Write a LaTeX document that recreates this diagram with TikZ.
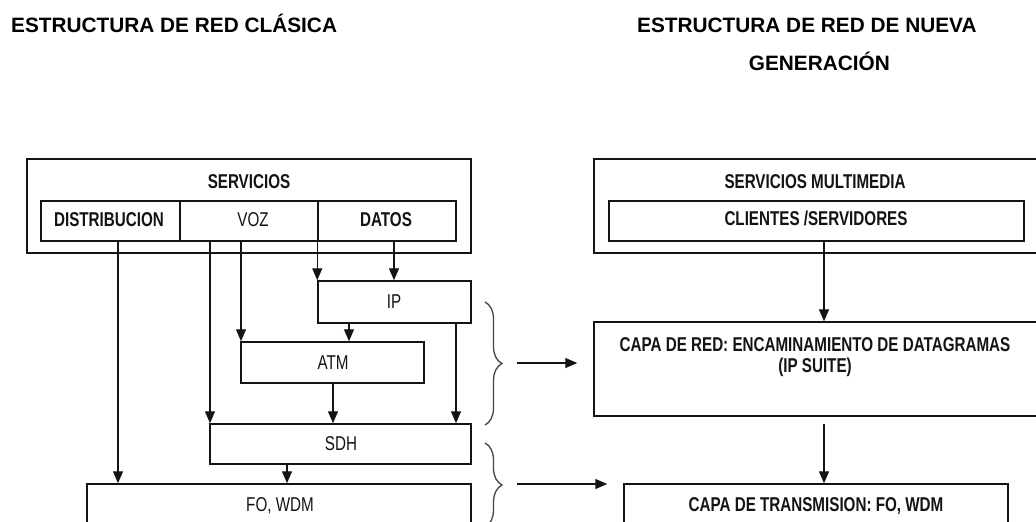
\documentclass[tikz,border=0pt]{standalone}
\usepackage{fontspec}
\setmainfont{Liberation Sans}
\newfontfamily\nar[FakeStretch=0.76]{Liberation Sans}
\usetikzlibrary{arrows.meta,decorations.pathreplacing}
\definecolor{ln}{HTML}{141414}
\definecolor{bc}{HTML}{444444}
\begin{document}
\begin{tikzpicture}[x=1pt,y=-1pt,
  box/.style={draw=ln,line width=1.5pt,inner sep=0pt},
  lab/.style={anchor=base,inner sep=0pt,text=ln,font=\nar\fontsize{20}{21}\selectfont\bfseries},
  reg/.style={anchor=base,inner sep=0pt,text=ln,font=\nar\fontsize{20}{21}\selectfont},
  ttl/.style={inner sep=0pt,text=black,font=\bfseries\fontsize{20.8}{25}\selectfont},
  arr/.style={draw=ln,line width=1.3pt,-{Triangle[length=12pt,width=10pt]}},
  brc/.style={draw=bc,line width=1.3pt,decorate,decoration={brace,amplitude=17pt}}]
\useasboundingbox (0,0) rectangle (1036,522);
\fill[white] (0,0) rectangle (1036,522);
\clip (0,0) rectangle (1036,522);

% titles
\node[ttl,anchor=base west] (t1) at (11,32) {ESTRUCTURA DE RED CLÁSICA};
\node[ttl,anchor=base west] (t2) at (637,32) {ESTRUCTURA DE RED DE NUEVA};
\node[ttl,anchor=base east] (t3) at (890,70) {GENERACIÓN};

% left structure
\node[box,minimum width=444pt,minimum height=94pt] (svcL) at (249,206) {};
\node[lab] (svcLt) at (249,188) {SERVICIOS};
\node[box,minimum width=139pt,minimum height=40pt] (dist) at (110.5,221) {};
\node[box,minimum width=138pt,minimum height=40pt] (voz) at (249,221) {};
\node[box,minimum width=138pt,minimum height=40pt] (datos) at (387,221) {};
\node[lab] (distt) at (109,226.5) {DISTRIBUCION};
\node[reg] (vozt) at (253,226.5) {VOZ};
\node[lab] (datost) at (386,226.5) {DATOS};

\node[box,minimum width=153pt,minimum height=42pt] (ip) at (394.5,302) {};
\node[reg] (ipt) at (394,308.5) {IP};
\node[box,minimum width=183pt,minimum height=41pt] (atm) at (332.5,362.5) {};
\node[reg] (atmt) at (333,369) {ATM};
\node[box,minimum width=261pt,minimum height=40pt] (sdh) at (340.5,444) {};
\node[reg] (sdht) at (341,450) {SDH};
\node[box,minimum width=384pt,minimum height=41pt] (fo) at (279,504.5) {};
\node[reg] (fot) at (280,511.5) {FO, WDM};

% arrow x positions
\coordinate (xa) at (118,0);
\coordinate (xb) at (210,0);
\coordinate (xc) at (241,0);
\coordinate (xd) at (394,0);
\coordinate (xe) at (349,0);
\coordinate (xf) at (456,0);
\coordinate (xg) at (333,0);
\coordinate (xh) at (287,0);
\coordinate (xr) at (824,0);

\draw[arr] (dist.south -| xa) -- (fo.north -| xa);
\draw[arr] (voz.south -| xb) -- (sdh.north -| xb);
\draw[arr] (voz.south -| xc) -- (atm.north -| xc);
\draw[arr] (datos.south west) -- (ip.north west);
\draw[arr] (datos.south -| xd) -- (ip.north -| xd);
\draw[arr] (ip.south -| xe) -- (atm.north -| xe);
\draw[arr] (ip.south -| xf) -- (sdh.north -| xf);
\draw[arr] (atm.south -| xg) -- (sdh.north -| xg);
\draw[arr] (sdh.south -| xh) -- (fo.north -| xh);

% braces
\coordinate (b1s) at (485,302);
\coordinate (b1e) at (485,425);
\coordinate (b2s) at (485,443);
\coordinate (b2e) at (485,527);
\draw[brc] (b1s) -- (b1e);
\draw[brc] (b2s) -- (b2e);
\coordinate (b1) at (502,363);
\coordinate (b2) at (502,484);

% right structure
\node[box,minimum width=466pt,minimum height=94pt] (svcR) at (827,206) {};
\node[lab] (svcRt) at (815,188) {SERVICIOS MULTIMEDIA};
\node[box,minimum width=415pt,minimum height=40pt] (cli) at (816.5,221) {};
\node[lab] (clit) at (816,225.5) {CLIENTES /SERVIDORES};
\node[box,minimum width=466pt,minimum height=94pt] (red) at (827,369) {};
\node[lab,align=center] (redt) at (815,372) {CAPA DE RED: ENCAMINAMIENTO DE DATAGRAMAS\\(IP SUITE)};
\node[box,minimum width=384pt,minimum height=41pt] (tx) at (816,504.5) {};
\node[lab] (txt) at (816,511.5) {CAPA DE TRANSMISION: FO, WDM};

\draw[arr] (cli.south -| xr) -- (red.north -| xr);
\draw[arr,shorten <=7pt] (red.south -| xr) -- (tx.north -| xr);
\draw[arr,shorten <=15pt,shorten >=16pt] (b1) -- (red.west |- b1);
\draw[arr,shorten <=15pt,shorten >=16pt] (b2) -- (tx.west |- b2);
\end{tikzpicture}
\end{document}
